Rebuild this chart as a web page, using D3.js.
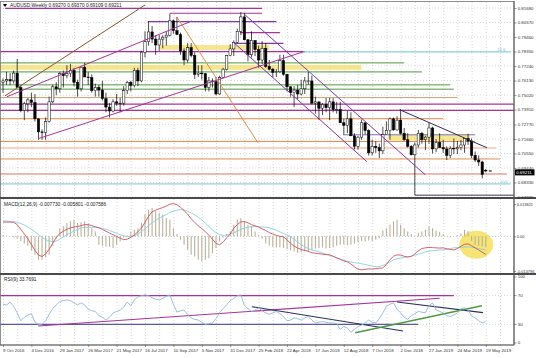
<!DOCTYPE html>
<html><head><meta charset="utf-8">
<script src="https://cdn.jsdelivr.net/npm/d3@7"></script>
<style>
body{margin:0;background:#fff}
svg{display:block}
text{font-family:"Liberation Sans",Arial,sans-serif}
</style>
</head><body>
<svg id="c" width="536" height="358"></svg>
<script>
// ---------- DATA ----------
const titleText = "AUDUSD,Weekly  0.69270 0.69370 0.69109 0.69211";
const macdTitle = "MACD(12,26,9) -0.007730 -0.005801 -0.007586";
const rsiTitle = "RSI(9) 33.7691";
const lastPrice = 0.69211;

const dateLabels = ["9 Oct 2016","4 Dec 2016","29 Jan 2017","26 Mar 2017","21 May 2017","16 Jul 2017","10 Sep 2017","5 Nov 2017","31 Dec 2017","25 Feb 2018","22 Apr 2018","17 Jun 2018","12 Aug 2018","7 Oct 2018","2 Dec 2018","27 Jan 2019","24 Mar 2019","19 May 2019"];
const priceTicks = [0.81680,0.80570,0.79460,0.78350,0.77240,0.76130,0.75020,0.73910,0.72770,0.71660,0.70550,0.69440,0.68330,0.67220];
const macdTicks = [0.013821,0,-0.014796];
const macdTickLabels = ["0.013821","0.00","-0.014796"];
const rsiTicks = [100,70,30,0];

// weekly bars, first bar = week of 9 Oct 2016
const open = [0.7600,0.7610,0.7620,0.7610,0.7670,0.7560,0.7385,0.7435,0.7465,0.7445,
0.7320,0.7220,0.7215,0.7300,0.7450,0.7565,0.7550,0.7665,0.7650,0.7665,
0.7690,0.7600,0.7550,0.7715,0.7640,0.7635,0.7535,0.7560,0.7540,0.7475,
0.7410,0.7380,0.7450,0.7440,0.7440,0.7535,0.7600,0.7575,0.7690,0.7610,
0.7830,0.7910,0.7985,0.7930,0.7885,0.7930,0.7945,0.7960,0.8070,0.7995,
0.7965,0.7840,0.7770,0.7865,0.7805,0.7660,0.7670,0.7665,0.7560,0.7610,
0.7605,0.7510,0.7635,0.7700,0.7805,0.7855,0.7905,0.7990,0.8100,0.7925,
0.7810,0.7920,0.7850,0.7770,0.7860,0.7720,0.7700,0.7675,0.7680,0.7765,
0.7660,0.7565,0.7520,0.7540,0.7510,0.7550,0.7610,0.7610,0.7440,0.7450,
0.7400,0.7430,0.7405,0.7450,0.7390,0.7390,0.7290,0.7270,0.7320,0.7190,
0.7110,0.7180,0.7290,0.7230,0.7060,0.7110,0.7100,0.7075,0.7200,0.7230,
0.7320,0.7235,0.7310,0.7210,0.7160,0.7110,0.7045,0.7120,0.7210,0.7160,
0.7180,0.7250,0.7090,0.7140,0.7100,0.7090,0.7040,0.7095,0.7090,0.7100,
0.7120,0.7170,0.7150,0.7040,0.7005,0.6990,0.6927];
const high = [0.7630,0.7680,0.7670,0.7690,0.7778,0.7580,0.7450,0.7480,0.7520,0.7510,
0.7325,0.7240,0.7330,0.7490,0.7580,0.7600,0.7680,0.7690,0.7730,0.7740,
0.7710,0.7620,0.7720,0.7750,0.7680,0.7660,0.7590,0.7580,0.7610,0.7520,
0.7440,0.7470,0.7510,0.7480,0.7570,0.7610,0.7610,0.7710,0.7710,0.7840,
0.7990,0.8065,0.8030,0.7960,0.7960,0.7960,0.7990,0.8125,0.8080,0.8100,
0.7980,0.7860,0.7900,0.7900,0.7830,0.7730,0.7730,0.7670,0.7640,0.7630,
0.7640,0.7650,0.7710,0.7810,0.7890,0.7920,0.8010,0.8136,0.8130,0.7930,
0.7990,0.7920,0.7880,0.7915,0.7900,0.7770,0.7710,0.7700,0.7810,0.7810,
0.7665,0.7570,0.7570,0.7580,0.7620,0.7640,0.7680,0.7650,0.7490,0.7450,
0.7440,0.7480,0.7480,0.7480,0.7450,0.7450,0.7320,0.7380,0.7370,0.7210,
0.7190,0.7315,0.7290,0.7240,0.7160,0.7150,0.7130,0.7260,0.7300,0.7330,
0.7330,0.7340,0.7394,0.7250,0.7210,0.7120,0.7140,0.7235,0.7220,0.7190,
0.7295,0.7260,0.7165,0.7210,0.7160,0.7110,0.7110,0.7170,0.7150,0.7160,
0.7170,0.7206,0.7170,0.7070,0.7040,0.7000,0.6937];
const low = [0.7520,0.7580,0.7580,0.7590,0.7560,0.7370,0.7310,0.7370,0.7410,0.7300,
0.7160,0.7160,0.7160,0.7290,0.7440,0.7500,0.7520,0.7560,0.7630,0.7640,
0.7570,0.7490,0.7530,0.7640,0.7580,0.7520,0.7490,0.7490,0.7460,0.7370,
0.7330,0.7370,0.7420,0.7370,0.7420,0.7510,0.7530,0.7560,0.7570,0.7600,
0.7790,0.7880,0.7900,0.7810,0.7840,0.7860,0.7880,0.7950,0.7970,0.7960,
0.7810,0.7730,0.7750,0.7790,0.7625,0.7640,0.7620,0.7530,0.7530,0.7560,
0.7500,0.7505,0.7630,0.7690,0.7800,0.7800,0.7900,0.7960,0.7920,0.7760,
0.7790,0.7800,0.7710,0.7740,0.7710,0.7690,0.7640,0.7640,0.7670,0.7650,
0.7530,0.7490,0.7410,0.7470,0.7500,0.7510,0.7580,0.7430,0.7360,0.7310,
0.7350,0.7370,0.7310,0.7370,0.7360,0.7290,0.7200,0.7210,0.7190,0.7085,
0.7085,0.7160,0.7200,0.7040,0.7040,0.7060,0.7020,0.7050,0.7200,0.7160,
0.7230,0.7230,0.7200,0.7150,0.7100,0.7040,0.6736,0.7100,0.7130,0.7080,
0.7130,0.7055,0.7065,0.7100,0.7060,0.7005,0.7020,0.7050,0.7050,0.7080,
0.7060,0.7120,0.7020,0.6990,0.6960,0.6865,0.6911];
const close = [0.7610,0.7620,0.7610,0.7670,0.7560,0.7385,0.7435,0.7465,0.7445,0.7320,
0.7220,0.7215,0.7300,0.7450,0.7565,0.7550,0.7665,0.7650,0.7665,0.7690,
0.7600,0.7550,0.7715,0.7640,0.7635,0.7535,0.7560,0.7540,0.7475,0.7410,
0.7380,0.7450,0.7440,0.7440,0.7535,0.7600,0.7575,0.7690,0.7610,0.7830,
0.7910,0.7985,0.7930,0.7885,0.7930,0.7945,0.7960,0.8070,0.7995,0.7965,
0.7840,0.7770,0.7865,0.7805,0.7660,0.7670,0.7665,0.7560,0.7610,0.7605,
0.7510,0.7635,0.7700,0.7805,0.7855,0.7905,0.7990,0.8100,0.7925,0.7810,
0.7920,0.7850,0.7770,0.7860,0.7720,0.7700,0.7675,0.7680,0.7765,0.7660,
0.7565,0.7520,0.7540,0.7510,0.7550,0.7610,0.7610,0.7440,0.7450,0.7400,
0.7430,0.7405,0.7450,0.7390,0.7390,0.7290,0.7270,0.7320,0.7190,0.7110,
0.7180,0.7290,0.7230,0.7060,0.7110,0.7100,0.7075,0.7200,0.7230,0.7320,
0.7235,0.7310,0.7210,0.7160,0.7110,0.7045,0.7120,0.7210,0.7160,0.7180,
0.7250,0.7090,0.7140,0.7100,0.7090,0.7040,0.7095,0.7090,0.7100,0.7120,
0.7170,0.7150,0.7040,0.7005,0.6990,0.6895,0.6921];

const macdHist = [0.0005,0.0003,0.0000,-0.0005,-0.0010,-0.0020,-0.0030,-0.0040,-0.0060,-0.0079,
-0.0100,-0.0100,-0.0090,-0.0079,-0.0040,-0.0010,0.0035,0.0043,0.0057,0.0064,
0.0071,0.0057,0.0060,0.0064,0.0055,0.0035,0.0021,-0.0036,-0.0040,-0.0043,
-0.0045,-0.0050,-0.0036,-0.0022,-0.0005,0.0005,0.0021,0.0028,0.0035,0.0057,
0.0093,0.0114,0.0121,0.0107,0.0100,0.0093,0.0078,0.0071,0.0035,0.0010,
-0.0015,-0.0036,-0.0057,-0.0079,-0.0086,-0.0100,-0.0107,-0.0100,-0.0093,-0.0072,
-0.0050,-0.0022,-0.0005,0.0010,0.0021,0.0050,0.0071,0.0078,0.0064,0.0050,
0.0043,0.0021,0.0005,-0.0010,-0.0030,-0.0040,-0.0045,-0.0048,-0.0046,-0.0050,
-0.0055,-0.0060,-0.0065,-0.0070,-0.0068,-0.0064,-0.0066,-0.0058,-0.0052,-0.0050,
-0.0048,-0.0052,-0.0050,-0.0046,-0.0040,-0.0036,-0.0034,-0.0038,-0.0036,-0.0030,
-0.0025,-0.0020,-0.0022,-0.0018,-0.0020,-0.0015,-0.0008,0.0025,0.0035,0.0050,
0.0064,0.0071,0.0050,0.0035,0.0021,0.0010,0.0000,0.0015,0.0021,0.0028,
0.0043,0.0035,0.0025,0.0020,0.0010,0.0002,-0.0004,0.0000,0.0005,0.0012,
0.0028,0.0022,-0.0020,-0.0036,-0.0040,-0.0043,-0.0045];
const macdMain = [0.0061,0.0061,0.0061,0.0060,0.0050,0.0030,0.0010,-0.0010,-0.0035,-0.0060,
-0.0080,-0.0086,-0.0075,-0.0055,-0.0030,-0.0005,0.0012,0.0022,0.0030,0.0036,
0.0040,0.0042,0.0046,0.0050,0.0050,0.0046,0.0041,0.0037,0.0030,0.0022,
0.0014,0.0007,0.0000,-0.0008,-0.0014,-0.0012,-0.0004,0.0006,0.0020,0.0035,
0.0060,0.0085,0.0105,0.0112,0.0118,0.0123,0.0130,0.0137,0.0140,0.0135,
0.0124,0.0110,0.0095,0.0075,0.0060,0.0045,0.0033,0.0020,0.0005,-0.0012,
-0.0030,-0.0036,-0.0025,-0.0006,0.0010,0.0035,0.0050,0.0062,0.0063,0.0058,
0.0050,0.0045,0.0040,0.0032,0.0025,0.0016,0.0010,0.0004,0.0000,-0.0002,
-0.0015,-0.0030,-0.0042,-0.0050,-0.0056,-0.0060,-0.0064,-0.0070,-0.0072,-0.0074,
-0.0076,-0.0078,-0.0079,-0.0085,-0.0092,-0.0098,-0.0105,-0.0109,-0.0118,-0.0130,
-0.0140,-0.0143,-0.0141,-0.0139,-0.0140,-0.0138,-0.0136,-0.0135,-0.0120,-0.0100,
-0.0085,-0.0079,-0.0080,-0.0085,-0.0088,-0.0086,-0.0075,-0.0062,-0.0052,-0.0049,
-0.0047,-0.0048,-0.0049,-0.0050,-0.0049,-0.0053,-0.0056,-0.0058,-0.0052,-0.0042,
-0.0034,-0.0032,-0.0040,-0.0049,-0.0058,-0.0068,-0.0077];
const macdSignal = [0.0066,0.0065,0.0064,0.0063,0.0060,0.0055,0.0048,0.0040,0.0030,0.0020,
0.0008,-0.0004,-0.0014,-0.0020,-0.0023,-0.0020,-0.0012,-0.0003,0.0007,0.0015,
0.0023,0.0030,0.0036,0.0038,0.0039,0.0039,0.0038,0.0037,0.0034,0.0030,
0.0025,0.0019,0.0013,0.0007,0.0002,-0.0001,-0.0002,0.0002,0.0010,0.0020,
0.0032,0.0046,0.0058,0.0068,0.0078,0.0086,0.0093,0.0102,0.0108,0.0112,
0.0114,0.0113,0.0108,0.0100,0.0092,0.0082,0.0070,0.0057,0.0042,0.0028,
0.0016,0.0007,0.0004,0.0005,0.0010,0.0015,0.0022,0.0030,0.0035,0.0039,
0.0041,0.0042,0.0041,0.0040,0.0039,0.0037,0.0032,0.0026,0.0019,0.0012,
0.0007,-0.0002,-0.0012,-0.0024,-0.0036,-0.0045,-0.0052,-0.0058,-0.0062,-0.0066,
-0.0071,-0.0076,-0.0081,-0.0086,-0.0092,-0.0097,-0.0102,-0.0106,-0.0109,-0.0112,
-0.0114,-0.0117,-0.0120,-0.0124,-0.0127,-0.0130,-0.0129,-0.0124,-0.0117,-0.0110,
-0.0100,-0.0096,-0.0093,-0.0090,-0.0088,-0.0084,-0.0080,-0.0076,-0.0072,-0.0066,
-0.0063,-0.0061,-0.0060,-0.0058,-0.0058,-0.0055,-0.0052,-0.0049,-0.0048,-0.0047,
-0.0046,-0.0045,-0.0046,-0.0049,-0.0052,-0.0055,-0.0058];
const rsiValues = [58,57,61,55,46,35,40,43,45,33,
30,30,35,44,52,57,62,63,64,63,
60,57,60,57,51,49,48,42,40,36,
40,46,48,50,54,61,56,64,68,70,
71,70,67,65,64,66,69,71,58,47,
49,50,44,39,37,36,33,30,31,32,
38,46,52,57,63,66,70,71,56,52,
48,50,53,49,46,44,46,48,45,41,
35,36,39,38,36,39,41,36,32,33,
34,33,32,32,31,23,27,25,19,23,
27,29,32,36,33,32,38,46,55,58,
60,51,46,40,37,42,45,48,47,46,
56,60,50,48,46,42,41,43,46,52,
53,50,42,39,35,32,34];

// drawn horizontal levels on the price chart: price, first bar, last bar
const levelPrice = [0.8165,0.8128,0.8063,0.7979,0.7898,0.7834,0.7832,0.7748,0.7679,0.7580,0.7547,0.7483,0.7433,0.7384,0.7321,0.7198,0.7147,0.7097,0.7013,0.6898,0.6822,0.6736];
const levelFrom  = [0.6,47,40.8,66.8,64.8,-1,84.5,-1,-1,-1,-1,-1,-1,-1,-1,95.8,-1,-1,-1,-1,-1,116];
const levelTo    = [73,73,77,78,79,85,143,113,118,126,127,128,146,146,124,133,133,139,140,142,143,146];
const levelKind  = ["magenta","magenta","purple","magenta","purple","magenta","cyan","green","green","green","green","tan","magenta","magenta","orange","slate","orange","salmon","orange","red","cyan","dark"];
// shaded zones: low price, high price, first bar, last bar
const zoneLow  = [0.7847,0.7695,0.7155];
const zoneHigh = [0.7885,0.7733,0.7198];
const zoneFrom = [44.2,-1,108.5];
const zoneTo   = [75,101,131.5];
// trend lines: bar/price start, bar/price end
const trendA = [[0.56,0.7496,40,0.8191],[1.1,0.7489,53.2,0.8069],[9.9,0.7168,84.5,0.7832],[49,0.8099,71.8,0.7137],[68.2,0.8115,118.9,0.6893],[64.8,0.7908,102.5,0.6992],[111.8,0.7389,136.3,0.7099]];
const trendKind = ["brown","magenta","magenta","orange","purple","purple","navy"];
// RSI drawn lines: bar/rsi start, bar/rsi end
const rsiLines = [[-1,70,127,70],[-1,30,117,30],[9.9,27.8,123,66.3],[70.1,54.6,112.7,20.8],[111,61.1,135.2,46.3],[99.2,18.5,134.9,56]];
const rsiLineKind = ["magenta","navyLight","magenta","navy","navy","green"];
// highlight on the MACD panel: bar, value
const macdHighlight = [133.3,-0.0036];

// ---------- STYLES ----------
const COL = {magenta:"#a8329c",purple:"#8236a8",cyan:"#74c4d2",green:"#4e9a3e",tan:"#cfa677",orange:"#e58a4c",salmon:"#f1a68a",red:"#e5735f",slate:"#7777b0",dark:"#3a3a6a",brown:"#8e5428",navy:"#2e2e5c",navyLight:"#5a5aa0"};
const W = 536, H = 358, plotR = 514;
const mainTop = 2, mainBot = 197, macdTop = 199, macdBot = 273, rsiTop = 275, rsiBot = 345;
const FONT = "Liberation Sans, Arial, sans-serif";

const svg = d3.select("#c");
const X = d3.scaleLinear().domain([0,136]).range([3, 3+136*3.55]);
const PY = d3.scaleLinear().domain([0.6722,0.8168]).range([197,8]);
const MY = d3.scaleLinear().domain([-0.014796,0.013821]).range([271,204]);
const RY = d3.scaleLinear().domain([0,100]).range([346,274]);

svg.append("rect").attr("width",W).attr("height",H).attr("fill","#fff");
const defs = svg.append("defs");
function clip(id,y0,y1){ defs.append("clipPath").attr("id",id).append("rect").attr("x",0).attr("y",y0).attr("width",plotR).attr("height",y1-y0); }
clip("cm",mainTop,mainBot); clip("cd",macdTop,macdBot); clip("cr",rsiTop,rsiBot);
const gM = svg.append("g").attr("clip-path","url(#cm)");
const gD = svg.append("g").attr("clip-path","url(#cd)");
const gR = svg.append("g").attr("clip-path","url(#cr)");

// vertical grid every 4 weeks
const vGrid = d3.range(0,146,4);
[[gM,mainTop,mainBot],[gD,macdTop,macdBot],[gR,rsiTop,rsiBot]].forEach(([g,a,b])=>{
  g.selectAll(null).data(vGrid).enter().append("line")
   .attr("x1",d=>X(d)+0.5).attr("x2",d=>X(d)+0.5).attr("y1",a).attr("y2",b)
   .attr("stroke","#bdbdbd").attr("stroke-width",0.6).attr("stroke-dasharray","1,2");
});
// horizontal grid
gM.selectAll(null).data(priceTicks).enter().append("line")
  .attr("x1",0).attr("x2",plotR).attr("y1",d=>PY(d)).attr("y2",d=>PY(d))
  .attr("stroke","#bdbdbd").attr("stroke-width",0.6).attr("stroke-dasharray","1,2");
gD.append("line").attr("x1",0).attr("x2",plotR).attr("y1",MY(0)).attr("y2",MY(0))
  .attr("stroke","#999").attr("stroke-width",0.6).attr("stroke-dasharray","1,2");
gR.selectAll(null).data([70,30]).enter().append("line")
  .attr("x1",0).attr("x2",plotR).attr("y1",d=>RY(d)).attr("y2",d=>RY(d))
  .attr("stroke","#bdbdbd").attr("stroke-width",0.6).attr("stroke-dasharray","1,2");

// zones
gM.selectAll(null).data(zoneLow).enter().append("rect")
  .attr("x",(d,k)=>X(zoneFrom[k])).attr("width",(d,k)=>X(zoneTo[k])-X(zoneFrom[k]))
  .attr("y",(d,k)=>PY(zoneHigh[k])).attr("height",(d,k)=>PY(zoneLow[k])-PY(zoneHigh[k]))
  .attr("fill","#f6e27c").attr("opacity",0.85);

// horizontal levels
gM.selectAll(null).data(levelPrice).enter().append("line")
  .attr("x1",(d,k)=>X(levelFrom[k])).attr("x2",(d,k)=>Math.min(plotR,X(levelTo[k])))
  .attr("y1",d=>PY(d)).attr("y2",d=>PY(d))
  .attr("stroke",(d,k)=>COL[levelKind[k]])
  .attr("stroke-width",(d,k)=>levelKind[k]==="magenta"||levelKind[k]==="purple"?1.2:1);

// fib labels
gM.append("text").attr("x",X(141.5)).attr("y",PY(0.7832)-0.5).attr("font-size",4.3).attr("fill",COL.cyan).attr("text-anchor","end").text("23.6");
gM.append("text").attr("x",X(142)).attr("y",PY(0.6822)-0.5).attr("font-size",4.3).attr("fill",COL.cyan).attr("text-anchor","end").text("0.0");

// candles
const idx = d3.range(open.length);
gM.selectAll(null).data(idx).enter().append("line")
  .attr("x1",i=>X(i)).attr("x2",i=>X(i)).attr("y1",i=>PY(high[i])).attr("y2",i=>PY(low[i]))
  .attr("stroke","#000").attr("stroke-width",0.7);
gM.selectAll(null).data(idx).enter().append("rect")
  .attr("x",i=>X(i)-1.2).attr("width",2.4)
  .attr("y",i=>PY(Math.max(open[i],close[i])))
  .attr("height",i=>Math.max(0.7,Math.abs(PY(open[i])-PY(close[i]))))
  .attr("fill",i=>close[i]>=open[i]?"#fff":"#000").attr("stroke","#000").attr("stroke-width",0.5);

// trend lines
gM.selectAll(null).data(trendA).enter().append("line")
  .attr("x1",d=>X(d[0])).attr("y1",d=>PY(d[1])).attr("x2",d=>X(d[2])).attr("y2",d=>PY(d[3]))
  .attr("stroke",(d,k)=>COL[trendKind[k]]).attr("stroke-width",1);

// current bid marker
gM.append("line").attr("x1",X(136)+3).attr("x2",X(136)+6).attr("y1",PY(lastPrice)).attr("y2",PY(lastPrice)).attr("stroke","#000").attr("stroke-width",1);

// MACD
gD.append("ellipse").attr("cx",X(macdHighlight[0])).attr("cy",MY(macdHighlight[1])).attr("rx",17).attr("ry",14)
  .attr("fill","#f2d93a").attr("opacity",0.7);
gD.selectAll(null).data(idx).enter().append("line")
  .attr("x1",i=>X(i)).attr("x2",i=>X(i)).attr("y1",MY(0)).attr("y2",i=>MY(macdHist[i]))
  .attr("stroke","#b9b19a").attr("stroke-width",1.1);
gD.append("path").datum(idx).attr("fill","none").attr("stroke","#86d0e0").attr("stroke-width",0.9)
  .attr("d",d3.line().x(i=>X(i)).y(i=>MY(macdSignal[i])));
gD.append("path").datum(idx).attr("fill","none").attr("stroke","#d4505a").attr("stroke-width",0.9)
  .attr("d",d3.line().x(i=>X(i)).y(i=>MY(macdMain[i])));

// RSI
gR.selectAll(null).data(rsiLines).enter().append("line")
  .attr("x1",d=>X(d[0])).attr("y1",d=>RY(d[1])).attr("x2",d=>X(d[2])).attr("y2",d=>RY(d[3]))
  .attr("stroke",(d,k)=>COL[rsiLineKind[k]]).attr("stroke-width",(d,k)=>rsiLineKind[k]==="green"?1.5:1.1);
gR.append("path").datum(idx).attr("fill","none").attr("stroke","#8fb8da").attr("stroke-width",0.9)
  .attr("d",d3.line().x(i=>X(i)).y(i=>RY(rsiValues[i])));

// frames / separators
svg.append("rect").attr("x",0.5).attr("y",1.5).attr("width",plotR-0.5).attr("height",rsiBot-1.5).attr("fill","none").attr("stroke","#777").attr("stroke-width",0.8);
[198,274].forEach(y=>svg.append("line").attr("x1",0).attr("x2",W).attr("y1",y).attr("y2",y).attr("stroke","#4a4a4a").attr("stroke-width",2));
svg.append("line").attr("x1",plotR).attr("x2",plotR).attr("y1",1).attr("y2",rsiBot).attr("stroke","#555").attr("stroke-width",1);

// axes
const fs = 4.4;
function styleAxis(g){ g.select(".domain").remove(); g.selectAll("line").attr("stroke","#555").attr("stroke-width",0.6); g.selectAll("text").attr("font-size",fs).attr("fill","#333").attr("font-family",FONT); }
const ap = svg.append("g").attr("transform",`translate(${plotR},0)`)
  .call(d3.axisRight(PY).tickValues(priceTicks).tickSize(2.5).tickPadding(1.2).tickFormat(d3.format(".5f")));
styleAxis(ap);
const am = svg.append("g").attr("transform",`translate(${plotR},0)`)
  .call(d3.axisRight(MY).tickValues(macdTicks).tickSize(2).tickPadding(0.8).tickFormat((d,k)=>macdTickLabels[k]));
styleAxis(am);
am.selectAll("text").attr("font-size",3.9);
const ar = svg.append("g").attr("transform",`translate(${plotR},0)`)
  .call(d3.axisRight(RY).tickValues(rsiTicks).tickSize(2.5).tickPadding(1.2));
styleAxis(ar);
ar.selectAll(".tick").attr("transform",d=>`translate(0,${Math.max(277,Math.min(343,RY(d)))})`);

const dateIdx = dateLabels.map((d,k)=>k*8);
const ax = svg.append("g").attr("transform",`translate(0,${rsiBot})`)
  .call(d3.axisBottom(X).tickValues(dateIdx).tickSize(2).tickPadding(2).tickFormat((d,k)=>dateLabels[k]));
styleAxis(ax);
ax.selectAll("text").attr("text-anchor","start").attr("dx","-0.5");
svg.append("line").attr("x1",0).attr("x2",plotR).attr("y1",rsiBot).attr("y2",rsiBot).attr("stroke","#555").attr("stroke-width",0.8);

// current price tag
const tagY = PY(lastPrice)+1.2;
svg.append("rect").attr("x",plotR+1).attr("y",tagY-2.8).attr("width",19.5).attr("height",6).attr("fill","#000");
svg.append("text").attr("x",plotR+2.2).attr("y",tagY+1.6).attr("font-size",fs).attr("font-family",FONT).attr("fill","#fff").text(d3.format(".5f")(lastPrice));

// titles
svg.append("path").attr("d","M3,4 L7,4 L5,7 Z").attr("fill","#000");
svg.append("text").attr("x",10).attr("y",7).attr("font-size",4.8).attr("fill","#222").text(titleText);
svg.append("text").attr("x",4).attr("y",206).attr("font-size",4.8).attr("fill","#222").text(macdTitle);
svg.append("text").attr("x",4).attr("y",281).attr("font-size",4.8).attr("fill","#222").text(rsiTitle);
</script>
</body></html>
